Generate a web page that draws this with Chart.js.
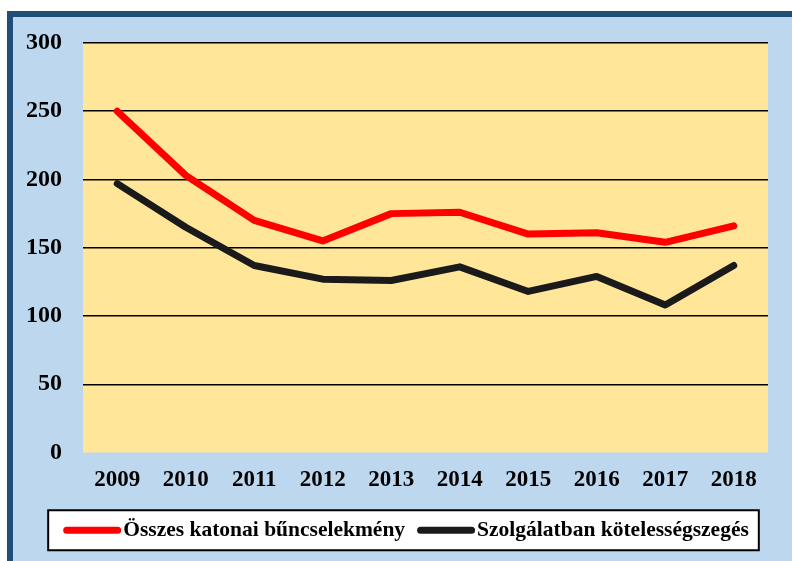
<!DOCTYPE html>
<html>
<head>
<meta charset="utf-8">
<script src="https://cdn.jsdelivr.net/npm/chart.js@4/dist/chart.umd.min.js"></script>
<style>
  html, body { margin: 0; padding: 0; background: #ffffff; width: 792px; height: 561px; overflow: hidden; }
  #frame { position: absolute; left: 7px; top: 11px; width: 800px; height: 560px;
           background: #BDD7EE; border-left: 6px solid #1F4E79; border-top: 6px solid #1F4E79; }
  #wrap { position: absolute; left: 0; top: 0; width: 792px; height: 561px; }
</style>
</head>
<body>
<div id="frame"></div>
<div id="wrap"><canvas id="c" width="792" height="561"></canvas></div>
<script>
const years = ['2009','2010','2011','2012','2013','2014','2015','2016','2017','2018'];
const osszes = [250, 203, 170, 155, 175, 176, 160, 161, 154, 166];
const szolgalat = [197, 165, 137, 127, 126, 136, 118, 129, 108, 137];
const seriesNames = ['Összes katonai bűncselekmény', 'Szolgálatban kötelességszegés'];
const seriesColors = ['#FF0000', '#1A1A1A'];

const FONT = "'Liberation Serif', 'Times New Roman', serif";

const bgPlugin = {
  id: 'bg',
  beforeDraw(chart) {
    const ctx = chart.ctx, a = chart.chartArea;
    ctx.save();
    ctx.fillStyle = '#FFE699';
    ctx.fillRect(a.left, a.top, a.right - a.left, a.bottom - a.top);
    const lg = chart.legend;
    if (lg && lg.legendHitBoxes && lg.legendHitBoxes.length) {
      const hb = lg.legendHitBoxes;
      const first = hb[0], last = hb[hb.length - 1];
      const x0 = first.left - 15, x1 = last.left + last.width + 10;
      const cy = first.top + first.height / 2;
      const y0 = cy - 20, y1 = cy + 20;
      ctx.fillStyle = '#ffffff';
      ctx.fillRect(x0, y0, x1 - x0, y1 - y0);
      ctx.lineWidth = 2;
      ctx.strokeStyle = '#000000';
      ctx.strokeRect(x0, y0, x1 - x0, y1 - y0);
    }
    ctx.restore();
  },
  afterDraw(chart) {
    const lg = chart.legend;
    if (!lg || !lg.legendHitBoxes) return;
    const ctx = chart.ctx;
    ctx.save();
    lg.legendHitBoxes.forEach((hb, i) => {
      const cy = hb.top + hb.height / 2;
      ctx.strokeStyle = seriesColors[i];
      ctx.lineWidth = 7;
      ctx.lineCap = 'round';
      ctx.beginPath();
      ctx.moveTo(hb.left + 3.5, cy);
      ctx.lineTo(hb.left + 54.5, cy);
      ctx.stroke();
    });
    ctx.restore();
  }
};

new Chart(document.getElementById('c'), {
  type: 'line',
  data: {
    labels: years,
    datasets: [
      { label: seriesNames[0], data: osszes, borderColor: seriesColors[0], backgroundColor: seriesColors[0],
        borderWidth: 7, pointRadius: 0, tension: 0, borderCapStyle: 'round', borderJoinStyle: 'round' },
      { label: seriesNames[1], data: szolgalat, borderColor: seriesColors[1], backgroundColor: seriesColors[1],
        borderWidth: 7, pointRadius: 0, tension: 0, borderCapStyle: 'round', borderJoinStyle: 'round' }
    ]
  },
  options: {
    responsive: false,
    animation: false,
    devicePixelRatio: 1,
    layout: { padding: { left: 20, right: 0, top: 43, bottom: 10 } },
    plugins: {
      tooltip: { enabled: false },
      legend: {
        position: 'bottom',
        labels: {
          boxWidth: 49.25,
          boxHeight: 7,
          padding: 12,
          color: '#000',
          font: { family: FONT, size: 21.5, weight: 'bold' },
          generateLabels(chart) {
            return seriesNames.map((n, i) => ({
              text: n, fillStyle: 'rgba(0,0,0,0)', strokeStyle: 'rgba(0,0,0,0)', lineWidth: 0,
              datasetIndex: i, hidden: false, fontColor: '#000'
            }));
          }
        }
      }
    },
    scales: {
      x: {
        offset: true,
        grid: { display: false, drawTicks: false },
        border: { display: false },
        ticks: { color: '#000', padding: 14, maxRotation: 0, font: { family: FONT, size: 23, weight: 'bold' } },
        afterFit(s) { s.height = 55; }
      },
      y: {
        min: 0, max: 300,
        grid: {
          drawTicks: false,
          color: (c) => (c.tick && c.tick.value === 0) ? 'rgba(0,0,0,0)' : '#000000',
          lineWidth: 1.5
        },
        border: { display: false },
        ticks: { stepSize: 50, color: '#000', padding: 21, font: { family: FONT, size: 24, weight: 'bold' } },
        afterFit(s) { s.width = 63; }
      },
      y2: {
        position: 'right',
        display: true,
        grid: { display: false, drawTicks: false },
        border: { display: false },
        ticks: { display: false },
        afterFit(s) { s.width = 24; }
      }
    }
  },
  plugins: [bgPlugin]
});
</script>
</body>
</html>
